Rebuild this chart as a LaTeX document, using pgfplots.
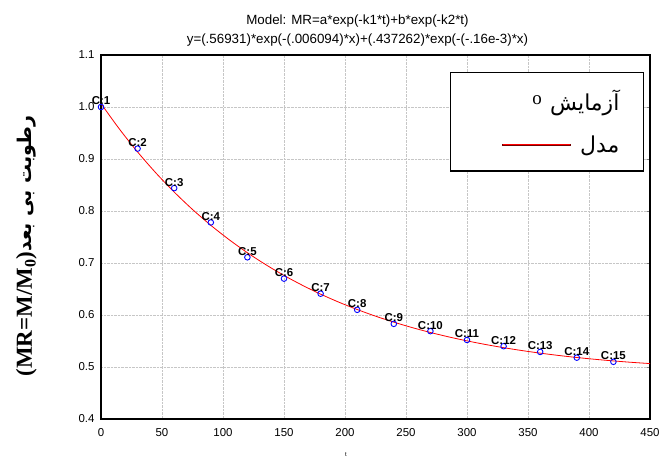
\documentclass[border=0pt]{standalone}
\usepackage{fontspec}
\usepackage{pgfplots}
\pgfplotsset{compat=1.18}
\setmainfont{Liberation Sans}
\newfontfamily\serifbold{Liberation Serif}
\newfontfamily\arabicfont[Script=Arabic]{DejaVu Sans}
\TeXXeTstate=1
\pgfplotstableread{
x y lab
0 1.000 C:1
30 0.920 C:2
60 0.844 C:3
90 0.778 C:4
120 0.711 C:5
150 0.670 C:6
180 0.641 C:7
210 0.610 C:8
240 0.583 C:9
270 0.569 C:10
300 0.552 C:11
330 0.540 C:12
360 0.529 C:13
390 0.518 C:14
420 0.510 C:15
}\meas
\pgfplotstableread{
x y
0 1.00657
15 0.95789
30 0.91356
45 0.87319
60 0.83643
75 0.80300
90 0.77257
105 0.74491
120 0.71975
135 0.69689
150 0.67610
165 0.65725
180 0.64013
195 0.62461
210 0.61053
225 0.59779
240 0.58626
255 0.57583
270 0.56641
285 0.55791
300 0.55025
315 0.54337
330 0.53717
345 0.53163
360 0.52666
375 0.52223
390 0.51829
405 0.51479
420 0.51170
435 0.50897
450 0.50659
}\model
\begin{document}
\begin{tikzpicture}
\useasboundingbox (-101bp,-40bp) rectangle (558bp,419bp);
\begin{axis}[
  at={(0,0)}, anchor=south west,
  scale only axis, width=549bp, height=364bp,
  xmin=0, xmax=450, ymin=0.4, ymax=1.1,
  xtick={0,50,...,450}, ytick={0.4,0.5,...,1.1},
  /pgf/number format/assume math mode=true,
  ticklabel style={font=\fontsize{11.5}{12}\selectfont},
  yticklabel style={xshift=-3bp, /pgf/number format/.cd, fixed, fixed zerofill, precision=1},
  xticklabel style={yshift=-6bp},
  grid=major, grid style={densely dotted, gray!45, line width=0.6bp},
  axis line style={line width=1.2bp},
  tick align=inside, major tick length=3bp,
  ytick pos=right, yticklabel pos=left,
  xtick style={draw=none},
  clip=false,
  title style={font=\fontsize{13.4}{19}\selectfont, align=center, at={(axis description cs:0.5,1)}, anchor=south, yshift=-1bp, xshift=-18bp},
  title={Model: MR=a*exp(-k1*t)+b*exp(-k2*t)\\y=(.56931)*exp(-(.006094)*x)+(.437262)*exp(-(-.16e-3)*x)},
  xlabel={t},
  xlabel style={font=\fontsize{6}{6}\selectfont, at={(axis description cs:0.446,0)}, anchor=north, yshift=-30bp},
  ylabel={{\serifbold\bfseries\fontsize{23}{23}\selectfont (MR=M/M\textsubscript{0})}{\arabicfont\bfseries\fontsize{19}{19}\selectfont\beginR رطوبت بی بعد\endR}},
  ylabel style={at={(axis description cs:-0.126,0.475)}, anchor=base},
  legend style={at={(axis description cs:0.989,0.953)}, anchor=north east,
    draw=black, line width=1.2bp, inner xsep=22bp, inner ysep=15bp,
    row sep=20bp,
    nodes={inner sep=2bp}},
  legend cell align=right,
]
\addplot[only marks, mark=o, mark size=2.8bp, blue, line width=0.9bp,
  nodes near coords, point meta=explicit symbolic,
  every node near coord/.style={font=\bfseries\fontsize{11.5}{12}\selectfont, black, inner sep=1.5bp, anchor=south},
  legend image code/.code={\path[draw=none, fill=none] (-76bp,0) -- (0,0); \node[overlay, black, font=\serifbold\fontsize{19}{19}\selectfont, inner sep=0pt] at (-6bp,0) {o};}]
  table[x=x, y=y, meta=lab] {\meas};
\addlegendentry{\arabicfont\fontsize{22}{22}\selectfont\beginR آزمایش\endR}
\addplot[red, line width=0.8bp, smooth,
  legend image code/.code={\path[draw=none, fill=none] (-76bp,0) -- (0,0); \draw[overlay, red!45!black, line width=2.6bp] (-46bp,0) -- (23bp,0); \draw[overlay, red, line width=1.2bp] (-45bp,0) -- (22bp,0);}]
  table[x=x, y=y] {\model};
\addlegendentry{\arabicfont\fontsize{22}{22}\selectfont\beginR مدل\endR}
\end{axis}
\end{tikzpicture}
\end{document}
